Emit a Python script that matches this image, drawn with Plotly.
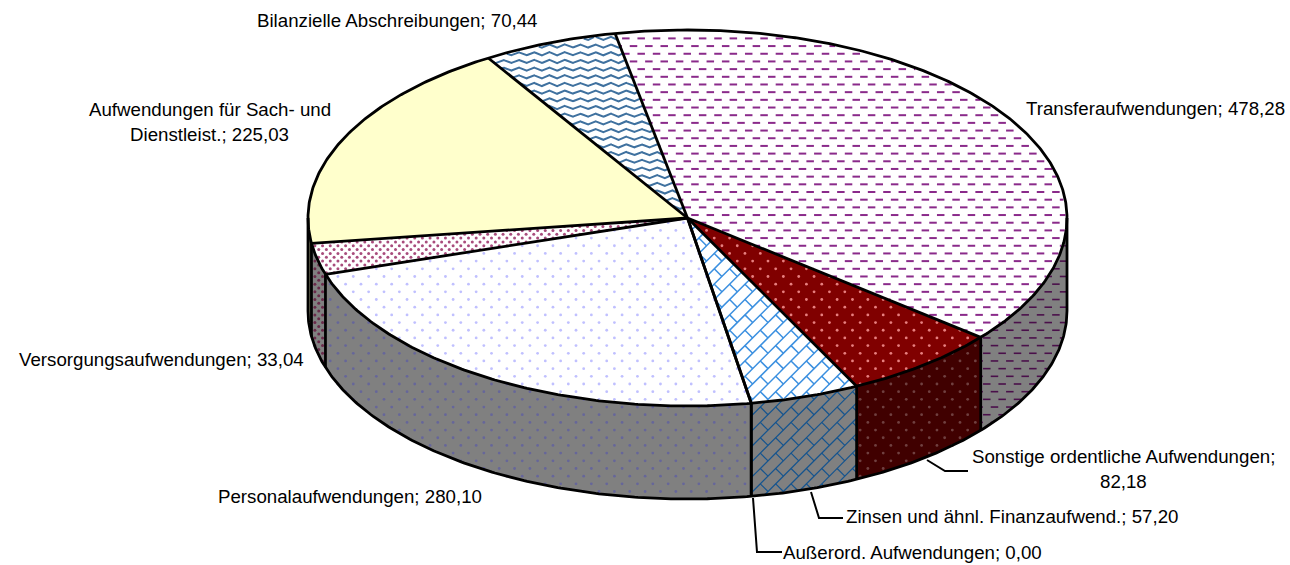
import numpy as np
import plotly.graph_objects as go

# ---------- data ----------
categories = ["Transferaufwendungen", "Sonstige ordentliche Aufwendungen",
              "Zinsen und ähnl. Finanzaufwend.", "Außerord. Aufwendungen",
              "Personalaufwendungen", "Versorgungsaufwendungen",
              "Aufwendungen für Sach- und Dienstleist.", "Bilanzielle Abschreibungen"]
values = [478.28, 82.18, 57.20, 0.00, 280.10, 33.04, 225.03, 70.44]

# ---------- layout of the pie (pixels on a 1290x565 plot area) ----------
W, H = 1290, 565
CX, CY, RX, RY, DEPTH = 687.5, 218.0, 379.5, 188.0, 93.0
START = -11.0
TILE = 15.36
OUT = dict(color="#000000", width=2.8)

total = sum(values)
edges = START + np.concatenate([[0], np.cumsum(values)]) * 360.0 / total

styles = [
    dict(top="#FFFFFF", wall="#808080", kind="dash", ink="#8A2A8A", wink="#4A0F4A"),
    dict(top="#800000", wall="#400000", kind="dot", ink="#E88080", wink="#704040", tile=TILE, size=2.8),
    dict(top="#FFFFFF", wall="#808080", kind="brick", ink="#3A8FE0", wink="#14548F"),
    dict(top="#FFFFFF", wall="#808080", kind="none", ink="#000000", wink="#000000"),
    dict(top="#FFFFFF", wall="#808080", kind="dot", ink="#C0C0FF", wink="#66669A", tile=TILE, size=2.8),
    dict(top="#FFFFFF", wall="#808080", kind="dot", ink="#A84C7C", wink="#6A2A4A", tile=TILE / 2, size=3.0),
    dict(top="#FFFFCC", wall="#808066", kind="none", ink="#000000", wink="#000000"),
    dict(top="#FFFFFF", wall="#808080", kind="wave", ink="#3F719F", wink="#204060"),
]


def px(a):
    r = np.radians(a)
    return CX + RX * np.sin(r), CY - RY * np.cos(r)


def top_inside(a0, a1, margin=1.2):
    def f(x, y):
        u, v = (x - CX) / (RX - margin), (y - CY) / (RY - margin)
        ang = (np.degrees(np.arctan2(u, -v)) - START) % 360 + START
        return (u * u + v * v <= 1) & (ang >= a0) & (ang <= a1)
    return f


def wall_inside(a0, a1):
    """visible wall: only the lower half of the ellipse, angles 90..270"""
    lo, hi = max(a0, 90), min(a1, 270)
    xr, xl = px(lo)[0], px(hi)[0]

    def f(x, y):
        u = np.clip((x - CX) / RX, -1, 1)
        yt = CY + RY * np.sqrt(1 - u * u)
        return (x <= xr) & (x >= xl) & (y >= yt) & (y <= yt + DEPTH)
    return f


def grid_points(tile):
    pts_x, pts_y = [], []
    for j, y in enumerate(np.arange(0, H, tile / 2)):
        off = tile / 2 if j % 2 else 0
        xs = np.arange(off, W, tile)
        pts_x.append(xs)
        pts_y.append(np.full_like(xs, y))
    return np.concatenate(pts_x), np.concatenate(pts_y)


def clip_polylines(lines, inside, step=0.7):
    ox, oy = [], []
    for (xs, ys) in lines:
        xs, ys = np.asarray(xs, float), np.asarray(ys, float)
        seg = np.hypot(np.diff(xs), np.diff(ys))
        s = np.concatenate([[0], np.cumsum(seg)])
        t = np.arange(0, s[-1] + step, step)
        qx, qy = np.interp(t, s, xs), np.interp(t, s, ys)
        m = inside(qx, qy)
        if not m.any():
            continue
        for xv, yv, ok in zip(qx, qy, m):
            if ok:
                ox.append(round(float(xv), 2)); oy.append(round(float(yv), 2))
            elif ox and ox[-1] is not None:
                ox.append(None); oy.append(None)
        ox.append(None); oy.append(None)
    return ox, oy


def dash_lines():
    gx, gy = grid_points(TILE)
    return [([x, x + 7.5], [y, y]) for x, y in zip(gx, gy)]


def brick_lines():
    L = []
    n = int((W + H) / TILE) + 2
    for k in range(n):
        L.append(([k * TILE, k * TILE - H - TILE], [0, H + TILE]))
    for i in range(int(W / TILE) + 1):
        for j in range(int(H / TILE) + 1):
            x, y = i * TILE, j * TILE
            L.append(([x + TILE / 2, x + TILE], [y + TILE / 2, y + TILE]))
    return L


def wave_lines():
    L = []
    for y in np.arange(0, H, TILE / 2):
        xs = np.arange(0, W + TILE, TILE / 4)
        ys = y + np.array([0, 1.8, 0, -1.8])[np.arange(len(xs)) % 4]
        L.append((xs, ys))
    return L


fig = go.Figure()


def add_poly(xs, ys, fill):
    fig.add_trace(go.Scatter(x=xs, y=ys, mode="lines", fill="toself", fillcolor=fill,
                             line=dict(width=0, color=fill), hoverinfo="skip", showlegend=False))


def add_pattern(st, inside, ink, scale=1.0):
    kind = st["kind"]
    if kind == "none":
        return
    if kind == "dot":
        gx, gy = grid_points(st["tile"])
        m = inside(gx, gy)
        fig.add_trace(go.Scatter(x=gx[m], y=gy[m], mode="markers",
                                 marker=dict(size=st["size"], color=ink, line=dict(width=0)),
                                 hoverinfo="skip", showlegend=False))
        return
    lines = {"dash": dash_lines, "brick": brick_lines, "wave": wave_lines}[kind]()
    ox, oy = clip_polylines(lines, inside)
    w = {"dash": 2.0, "brick": 1.5, "wave": 2.0}[kind] * scale
    fig.add_trace(go.Scatter(x=ox, y=oy, mode="lines", line=dict(color=ink, width=w),
                             hoverinfo="skip", showlegend=False))


def add_line(xs, ys, line=OUT):
    fig.add_trace(go.Scatter(x=xs, y=ys, mode="lines", line=line, hoverinfo="skip", showlegend=False))


# walls
for i, st in enumerate(styles):
    a0, a1 = edges[i], edges[i + 1]
    lo, hi = max(a0, 90), min(a1, 270)
    if hi <= lo or values[i] == 0:
        continue
    t = np.linspace(lo, hi, 80)
    ax, ay = px(t)
    add_poly(np.r_[ax, ax[::-1]], np.r_[ay, (ay + DEPTH)[::-1]], st["wall"])
    add_pattern(st, wall_inside(a0, a1), st["wink"], scale=0.8)

# top faces
for i, st in enumerate(styles):
    a0, a1 = edges[i], edges[i + 1]
    if values[i] == 0:
        continue
    t = np.linspace(a0, a1, max(int(a1 - a0) * 2, 6))
    ax, ay = px(t)
    add_poly(np.r_[CX, ax, CX], np.r_[CY, ay, CY], st["top"])
    add_pattern(st, top_inside(a0, a1), st["ink"])

# outlines of the disc
t = np.linspace(0, 360, 721)
ax, ay = px(t)
add_line(ax, ay)
t = np.linspace(90, 270, 361)
ax, ay = px(t)
add_line(ax, ay + DEPTH)
for a in [90, 270]:
    x0, y0 = px(a)
    add_line([x0, x0], [y0, y0 + DEPTH])
# radial edges and wall edges
for a in edges[:-1]:
    x0, y0 = px(a)
    add_line([CX, x0], [CY, y0])
    if 90 < (a % 360) < 270:
        add_line([x0, x0], [y0, y0 + DEPTH])

# leader lines
LEAD = dict(color="#000000", width=2)
add_line([927, 945, 968], [460, 471, 471], LEAD)
add_line([811, 819, 843], [492, 518, 518], LEAD)
add_line([753, 757, 782], [498, 552, 552], LEAD)


# labels
def num(i):
    return f"{values[i]:.2f}".replace(".", ",")


def label(i):
    return categories[i] + "; " + num(i)


label_lines = [
    (label(0), 1155, 108),
    ("Sonstige ordentliche Aufwendungen;", 1123, 456),
    (num(1), 1123, 481),
    (label(2), 1012, 516),
    (label(3), 912.5, 552),
    (label(4), 350, 496),
    (label(5), 161, 359),
    ("Aufwendungen für Sach- und", 209.5, 109),
    ("Dienstleist.; " + num(6), 209.5, 134),
    (label(7), 397.5, 20),
]
for txt, x, y in label_lines:
    fig.add_annotation(x=x, y=y, text=txt, showarrow=False, xanchor="center", yanchor="middle",
                       font=dict(family="Liberation Sans", size=18.7, color="#000000"))

fig.update_layout(
    width=W, height=H, margin=dict(l=0, r=0, t=0, b=0),
    paper_bgcolor="#FFFFFF", plot_bgcolor="#FFFFFF", showlegend=False,
    xaxis=dict(range=[0, W], visible=False, fixedrange=True),
    yaxis=dict(range=[H, 0], visible=False, fixedrange=True),
)
fig.write_html("out.html", config=dict(displayModeBar=False),
               post_script="document.body.style.margin='0';")
